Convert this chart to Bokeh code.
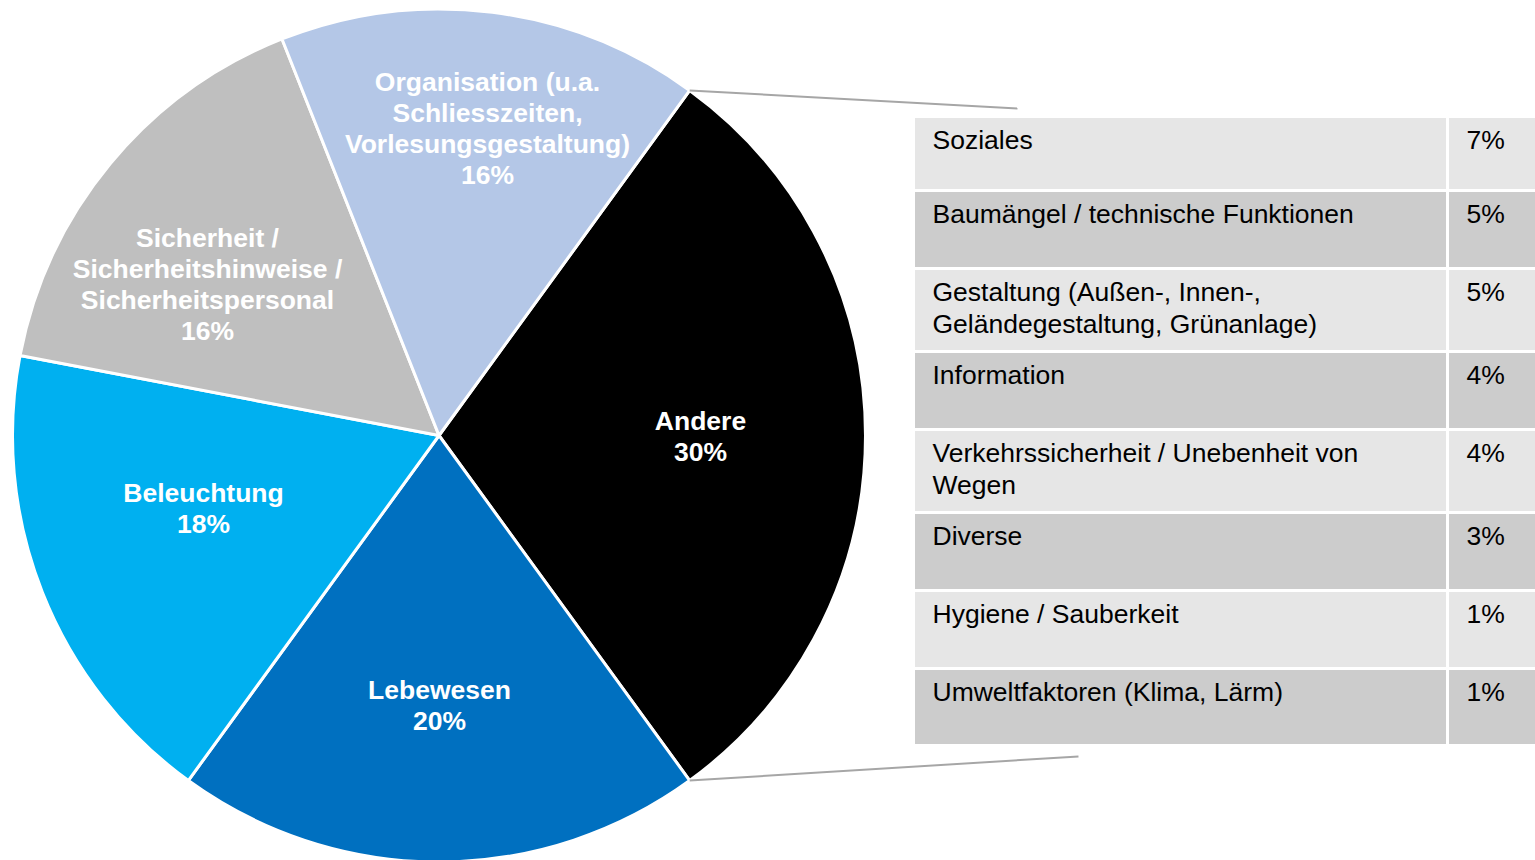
import math
from bokeh.plotting import figure
from bokeh.models import Range1d, ColumnDataSource
from bokeh.embed import file_html
from bokeh.resources import INLINE
from bokeh.core.properties import value

# ---------------- data ----------------
pie_labels = ["Andere", "Lebewesen", "Beleuchtung",
              "Sicherheit /\nSicherheitshinweise /\nSicherheitspersonal",
              "Organisation (u.a.\nSchliesszeiten,\nVorlesungsgestaltung)"]
pie_values = [30, 20, 18, 16, 16]
pie_colors = ["#000000", "#0070c0", "#00b0f0", "#bfbfbf", "#b4c7e7"]

other_labels = ["Soziales",
                "Baumängel / technische Funktionen",
                "Gestaltung (Außen-, Innen-,\nGeländegestaltung, Grünanlage)",
                "Information",
                "Verkehrssicherheit / Unebenheit von\nWegen",
                "Diverse",
                "Hygiene / Sauberkeit",
                "Umweltfaktoren (Klima, Lärm)"]
other_values = [7, 5, 5, 4, 4, 3, 1, 1]

# ---------------- layout ----------------
FONT = value("Liberation Sans")
FS = "26.5px"
W, H = 1535, 860


def Y(pix):
    return H - pix


p = figure(width=W, height=H, output_backend="svg", toolbar_location=None,
           x_range=Range1d(0, W), y_range=Range1d(0, H),
           min_border=0)
p.axis.visible = False
p.grid.visible = False
p.outline_line_color = None
p.background_fill_color = "white"

# pie
cx, cy, r = 438.5, Y(435), 426.5
start_deg = 54.0
total = sum(pie_values)
bounds = [start_deg]
for v in pie_values:
    bounds.append(bounds[-1] - 360.0 * v / total)
starts = [math.radians(bounds[i + 1]) for i in range(len(pie_values))]
ends = [math.radians(bounds[i]) for i in range(len(pie_values))]
src = ColumnDataSource(dict(start=starts, end=ends, color=pie_colors))
p.wedge(x=cx, y=cy, radius=r, start_angle="start", end_angle="end",
        fill_color="color", line_color="white", line_width=3, source=src)

# pie labels (block centres, pixel coords)
label_pos = [(700, 435.5), (439, 704.5), (203, 507.5), (207, 283.5), (487, 128)]
lx, ly, lt = [], [], []
for lab, v, (px, py) in zip(pie_labels, pie_values, label_pos):
    lines = lab.split("\n") + [f"{v}%"]
    n = len(lines)
    for i, t in enumerate(lines):
        lx.append(px)
        ly.append(Y(py + (i - (n - 1) / 2) * 31))
        lt.append(t)
p.text(x=lx, y=ly, text=lt, text_align="center", text_baseline="middle",
       text_color="white", text_font=FONT, text_font_style="bold",
       text_font_size=FS)

# connector lines
a0 = math.radians(bounds[0])
a1 = math.radians(bounds[1])
p.segment(x0=[cx + r * math.cos(a0), cx + r * math.cos(a1)],
          y0=[cy + r * math.sin(a0), cy + r * math.sin(a1)],
          x1=[1017, 1078], y1=[Y(108), Y(756)],
          line_color="#a6a6a6", line_width=2)

# table
row_bounds = [116, 190, 268, 351, 429, 512, 590, 668, 745]
tab_left, col_x, tab_right = 913, 1447, 1540
row_colors = ["#e6e6e6" if i % 2 == 0 else "#cccccc" for i in range(len(other_labels))]
tops = [Y(row_bounds[i]) for i in range(len(other_labels))]
bots = [Y(row_bounds[i + 1]) for i in range(len(other_labels))]
p.quad(left=tab_left, right=col_x, top=tops, bottom=bots,
       fill_color=row_colors, line_color="white", line_width=3)
p.quad(left=col_x, right=tab_right, top=tops, bottom=bots,
       fill_color=row_colors, line_color="white", line_width=3)

tx, ty, tt = [], [], []
px_, py_, pt_ = [], [], []
for i, (lab, v) in enumerate(zip(other_labels, other_values)):
    for j, line in enumerate(lab.split("\n")):
        tx.append(932)
        ty.append(Y(row_bounds[i] + 23 + j * 32))
        tt.append(line)
    px_.append(1466)
    py_.append(Y(row_bounds[i] + 23))
    pt_.append(f"{v}%")
p.text(x=tx, y=ty, text=tt, text_align="left", text_baseline="middle",
       text_color="black", text_font=FONT, text_font_size=FS)
p.text(x=px_, y=py_, text=pt_, text_align="left", text_baseline="middle",
       text_color="black", text_font=FONT, text_font_size=FS)

open("out.html", "w").write(file_html(p, INLINE))
